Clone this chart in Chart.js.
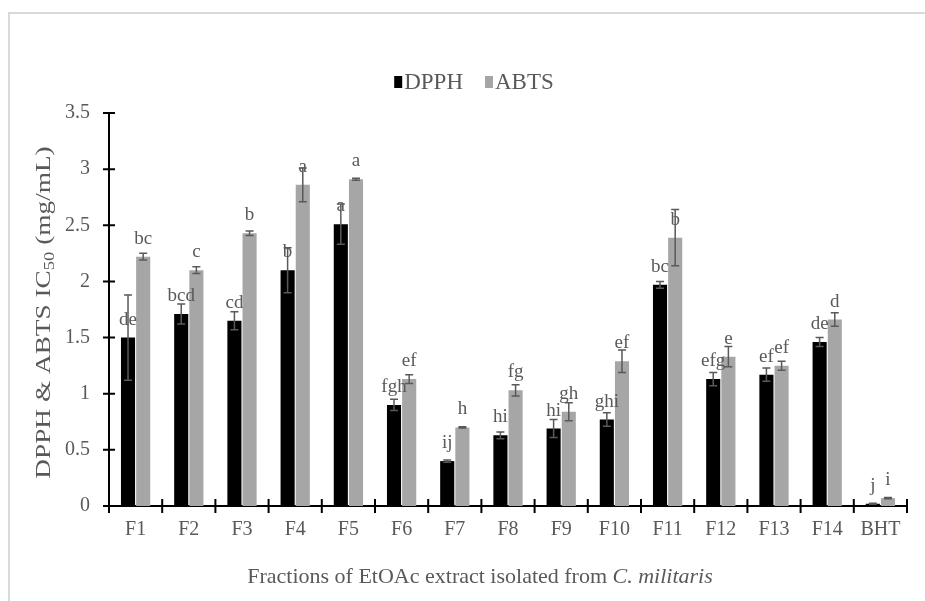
<!DOCTYPE html>
<html>
<head>
<meta charset="utf-8">
<script src="https://cdn.jsdelivr.net/npm/chart.js@4.4.1/dist/chart.umd.min.js"></script>
<style>
  html, body { margin: 0; padding: 0; background: #fff; }
  canvas { display: block; }
</style>
</head>
<body>
<canvas id="myChart" width="925" height="601"></canvas>
<script>
var categories = ['F1', 'F2', 'F3', 'F4', 'F5', 'F6', 'F7', 'F8', 'F9', 'F10', 'F11', 'F12', 'F13', 'F14', 'BHT'];
var dpph = [1.50, 1.71, 1.65, 2.10, 2.51, 0.90, 0.40, 0.63, 0.69, 0.77, 1.97, 1.13, 1.17, 1.46, 0.02];
var dpphErr = [0.38, 0.09, 0.08, 0.20, 0.18, 0.05, 0.01, 0.03, 0.08, 0.06, 0.03, 0.06, 0.06, 0.04, 0.005];
var dpphLetters = ['de', 'bcd', 'cd', 'b', 'a', 'fgh', 'ij', 'hi', 'hi', 'ghi', 'bc', 'efg', 'ef', 'de', 'j'];
var abts = [2.22, 2.10, 2.43, 2.86, 2.91, 1.13, 0.70, 1.03, 0.84, 1.29, 2.39, 1.33, 1.25, 1.66, 0.07];
var abtsErr = [0.03, 0.03, 0.02, 0.15, 0.01, 0.04, 0.005, 0.05, 0.08, 0.10, 0.25, 0.09, 0.04, 0.06, 0.005];
var abtsLetters = ['bc', 'c', 'b', 'a', 'a', 'ef', 'h', 'fg', 'gh', 'ef', 'b', 'e', 'ef', 'd', 'i'];
var yTicks = [0, 0.5, 1, 1.5, 2, 2.5, 3, 3.5];

var serif = '"Liberation Serif", "Times New Roman", serif';
var textGray = '#595959';

var errors = [dpphErr, abtsErr];
var letters = [dpphLetters, abtsLetters];

// error bars, letters, crossing tick marks, legend and axis titles
var extras = {
  id: 'extras',
  beforeDraw: function(chart) {
    var c = chart.ctx;
    c.save();
    c.fillStyle = '#fff';
    c.fillRect(0, 0, chart.width, chart.height);
    c.strokeStyle = '#d9d9d9';
    c.lineWidth = 2;
    c.strokeRect(9, 13, chart.width + 20, chart.height + 20);
    c.restore();
  },
  afterDatasetsDraw: function(chart) {
    var c = chart.ctx;
    var y = chart.scales.y, x = chart.scales.x;
    c.save();
    chart.data.datasets.forEach(function(ds, di) {
      var meta = chart.getDatasetMeta(di);
      meta.data.forEach(function(el, i) {
        var v = ds.data[i], e = errors[di][i];
        var top = y.getPixelForValue(v + e), bot = y.getPixelForValue(Math.max(v - e, 0));
        c.strokeStyle = '#595959';
        c.lineWidth = 1.5;
        c.beginPath();
        c.moveTo(el.x, top); c.lineTo(el.x, bot);
        c.moveTo(el.x - 4, top); c.lineTo(el.x + 4, top);
        c.moveTo(el.x - 4, bot); c.lineTo(el.x + 4, bot);
        c.stroke();
        c.fillStyle = textGray;
        c.font = '19px ' + serif;
        c.textAlign = 'center';
        c.textBaseline = 'alphabetic';
        c.fillText(letters[di][i], el.x, el.y - 13);
      });
    });
    // tick marks crossing the axes
    c.strokeStyle = '#000';
    c.lineWidth = 2;
    c.beginPath();
    yTicks.forEach(function(t) {
      var py = y.getPixelForValue(t);
      c.moveTo(x.left - 6, py); c.lineTo(x.left + 6, py);
    });
    var step = (x.right - x.left) / categories.length;
    for (var k = 0; k <= categories.length; k++) {
      var px = x.left + k * step;
      c.moveTo(px, y.bottom - 7); c.lineTo(px, y.bottom + 7);
    }
    c.stroke();
    c.restore();
  },
  afterDraw: function(chart) {
    var c = chart.ctx;
    var area = chart.chartArea;
    c.save();
    // legend
    c.font = '23px ' + serif;
    c.textBaseline = 'alphabetic';
    c.textAlign = 'left';
    var items = chart.data.datasets.map(function(ds) {
      return { label: ds.label, color: ds.backgroundColor, w: 10 + c.measureText(ds.label).width };
    });
    var gap = 22;
    var total = items.reduce(function(s, it) { return s + it.w; }, 0) + gap * (items.length - 1);
    var lx = 474 - total / 2;
    items.forEach(function(it) {
      c.fillStyle = it.color;
      c.fillRect(lx, 76, 8, 12);
      c.fillStyle = textGray;
      c.fillText(it.label, lx + 10, 89);
      lx += it.w + gap;
    });
    // x title with italic species name
    var t1 = 'Fractions of EtOAc extract isolated from ';
    var t2 = 'C. militaris';
    c.font = '22px ' + serif;
    var w1 = c.measureText(t1).width;
    c.font = 'italic 22px ' + serif;
    var w2 = c.measureText(t2).width;
    var sx = 480 - (w1 + w2) / 2;
    c.fillStyle = textGray;
    c.font = '22px ' + serif;
    c.fillText(t1, sx, 583);
    c.font = 'italic 22px ' + serif;
    c.fillText(t2, sx + w1, 583);
    // y title with subscript, stretched along its length like the source
    var a = 'DPPH & ABTS IC', sub = '50', b = ' (mg/mL)';
    c.font = '22px ' + serif;
    var wa = c.measureText(a).width, wb = c.measureText(b).width;
    c.font = '15px ' + serif;
    var ws = c.measureText(sub).width;
    var tot = wa + ws + wb;
    c.translate(50, (area.top + area.bottom) / 2 + 3);
    c.rotate(-Math.PI / 2);
    c.scale(1.24, 1);
    var ox = -tot / 2;
    c.font = '22px ' + serif;
    c.fillText(a, ox, 0);
    c.font = '15px ' + serif;
    c.fillText(sub, ox + wa, 4);
    c.font = '22px ' + serif;
    c.fillText(b, ox + wa + ws, 0);
    c.restore();
  }
};

var ctx = document.getElementById('myChart').getContext('2d');
var myChart = new Chart(ctx, {
  type: 'bar',
  data: {
    labels: categories,
    datasets: [{
      label: 'DPPH',
      data: dpph,
      backgroundColor: '#000000',
      barPercentage: 0.93,
      categoryPercentage: 0.57
    }, {
      label: 'ABTS',
      data: abts,
      backgroundColor: '#a6a6a6',
      barPercentage: 0.93,
      categoryPercentage: 0.57
    }]
  },
  options: {
    responsive: false,
    animation: false,
    layout: { padding: { top: 113, right: 18, left: 0, bottom: 0 } },
    plugins: {
      legend: { display: false },
      tooltip: { enabled: false }
    },
    scales: {
      x: {
        grid: { display: false, drawTicks: false },
        border: { display: true, color: '#000', width: 2 },
        ticks: { color: textGray, font: { family: serif, size: 20 }, padding: 12 },
        afterFit: function(scale) { scale.height = 95; }
      },
      y: {
        min: 0,
        max: 3.5,
        grid: { display: false, drawTicks: false },
        border: { display: true, color: '#000', width: 2 },
        ticks: {
          stepSize: 0.5,
          color: textGray,
          font: { family: serif, size: 20 },
          padding: 19,
          callback: function(value) { return String(+value.toFixed(1)); }
        },
        afterFit: function(scale) { scale.width = 109; }
      }
    }
  },
  plugins: [extras]
});
</script>
</body>
</html>
